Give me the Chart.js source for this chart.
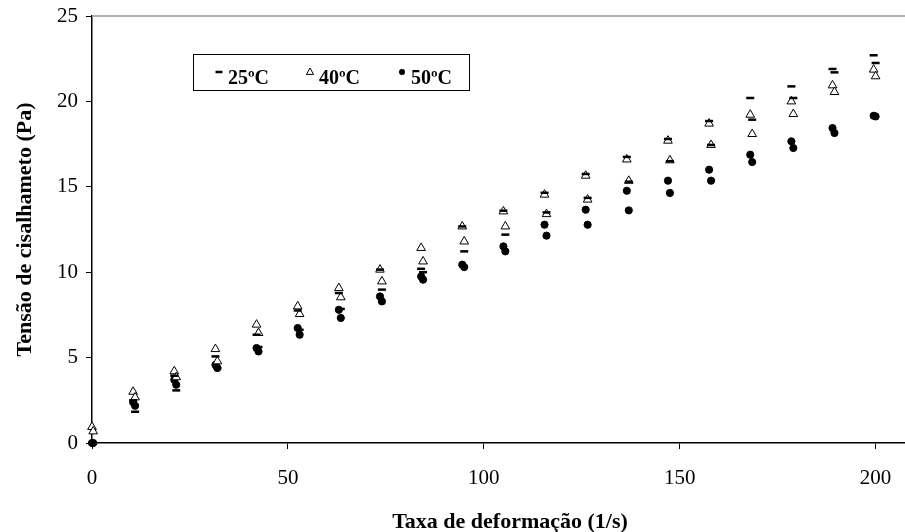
<!DOCTYPE html>
<html>
<head>
<meta charset="utf-8">
<script src="https://cdn.jsdelivr.net/npm/chart.js@4/dist/chart.umd.min.js"></script>
<style>
  html, body { margin: 0; padding: 0; background: #ffffff; overflow: hidden; }
  #wrap { width: 905px; height: 532px; position: relative; }
  canvas { display: block; }
</style>
</head>
<body>
<div id="wrap"><canvas id="c" width="905" height="532"></canvas></div>
<script>
// Shear rate (1/s): first and second reading positions
const rateA = [0, 10.5, 21, 31.5, 42, 52.5, 63, 73.5, 84, 94.5, 105, 115.5, 126, 136.5, 147, 157.5, 168, 178.5, 189, 199.5];
const rateB = [0.3, 11, 21.5, 32, 42.5, 53, 63.5, 74, 84.5, 95, 105.5, 116, 126.5, 137, 147.5, 158, 168.5, 179, 189.5, 200];

// Shear stress (Pa)
const t25A = [0, 2.5, 3.94, 5.07, 6.34, 7.76, 8.78, 10.15, 10.2, 12.68, 13.6, 14.65, 15.75, 16.75, 17.8, 18.85, 20.2, 20.88, 21.9, 22.7];
const t25B = [0, 1.83, 3.08, 4.39, 5.62, 6.63, 7.85, 8.98, 10.0, 11.22, 12.2, 13.5, 14.35, 15.3, 16.5, 17.45, 18.93, 20.2, 21.7, 22.25];
const t40A = [0.94, 3.0, 4.2, 5.5, 6.93, 8.0, 9.07, 10.15, 11.42, 12.68, 13.56, 14.54, 15.65, 16.6, 17.7, 18.7, 19.22, 20.0, 20.94, 21.86];
const t40B = [0.68, 2.67, 3.85, 4.78, 6.44, 7.55, 8.53, 9.46, 10.63, 11.8, 12.68, 13.4, 14.25, 15.35, 16.55, 17.45, 18.09, 19.26, 20.55, 21.47];
const t50A = [0, 2.38, 3.7, 4.58, 5.56, 6.73, 7.8, 8.58, 9.75, 10.44, 11.51, 12.78, 13.66, 14.77, 15.36, 16.0, 16.88, 17.66, 18.44, 19.16];
const t50B = [0, 2.18, 3.41, 4.39, 5.36, 6.34, 7.32, 8.29, 9.56, 10.3, 11.22, 12.14, 12.78, 13.62, 14.64, 15.36, 16.45, 17.27, 18.15, 19.12];

const seriesNames = ['25ºC', '40ºC', '50ºC'];
const xTicks = [0, 50, 100, 150, 200];
const yTicks = [0, 5, 10, 15, 20, 25];
const xTitle = 'Taxa de deformação (1/s)';
const yTitle = 'Tensão de cisalhameto (Pa)';

function pairs(xa, ya, xb, yb) {
  const out = [];
  xa.forEach((x, i) => out.push({ x: x, y: ya[i] }));
  xb.forEach((x, i) => out.push({ x: x, y: yb[i] }));
  return out;
}

const SERIF = '"Liberation Serif", "Times New Roman", serif';

const styles = [
  { pointStyle: 'line', pointRadius: 4, pointBorderWidth: 2.5, pointBackgroundColor: '#000', pointBorderColor: '#000' },
  { pointStyle: 'triangle', pointRadius: 5, pointBorderWidth: 1, pointBackgroundColor: '#fff', pointBorderColor: '#000' },
  { pointStyle: 'circle', pointRadius: 3.6, pointBorderWidth: 1, pointBackgroundColor: '#000', pointBorderColor: '#000' }
];

const dataSets = [
  pairs(rateA, t25A, rateB, t25B),
  pairs(rateA, t40A, rateB, t40B),
  pairs(rateA, t50A, rateB, t50B)
];

const datasets = dataSets.map((d, i) => Object.assign({
  label: seriesNames[i],
  data: d,
  showLine: false,
  clip: false,
  pointHoverRadius: 4
}, styles[i]));

const frameAndLegend = {
  id: 'frameAndLegend',
  afterDatasetsDraw(chart) {
    const ctx = chart.ctx;
    const a = chart.chartArea;
    ctx.save();
    // gray top frame line
    ctx.strokeStyle = '#9a9a9a';
    ctx.lineWidth = 1.5;
    ctx.beginPath();
    ctx.moveTo(a.left, a.top);
    ctx.lineTo(a.right, a.top);
    ctx.stroke();

    // x-axis title
    ctx.fillStyle = '#000';
    ctx.font = 'bold 22px ' + SERIF;
    ctx.textAlign = 'center';
    ctx.textBaseline = 'alphabetic';
    ctx.fillText(xTitle, 510, 528);

    // legend box
    const bx = 193.5, by = 54.5, bw = 276, bh = 36;
    ctx.fillStyle = '#fff';
    ctx.fillRect(bx, by, bw, bh);
    ctx.strokeStyle = '#000';
    ctx.lineWidth = 1;
    ctx.strokeRect(bx, by, bw, bh);

    const itemsX = [219, 310, 402];
    const textX = [228, 319, 411];
    ctx.font = 'bold 20px ' + SERIF;
    ctx.textAlign = 'left';
    seriesNames.forEach((name, i) => {
      const s = styles[i];
      const r = i === 0 ? 3.5 : (i === 1 ? 4 : 3);
      ctx.fillStyle = s.pointBackgroundColor;
      ctx.strokeStyle = s.pointBorderColor;
      ctx.lineWidth = s.pointBorderWidth;
      ctx.beginPath();
      if (s.pointStyle === 'line') {
        ctx.lineWidth = 2.5;
        ctx.moveTo(itemsX[i] - r, 72);
        ctx.lineTo(itemsX[i] + r, 72);
        ctx.stroke();
      } else if (s.pointStyle === 'triangle') {
        ctx.moveTo(itemsX[i], 72 - r);
        ctx.lineTo(itemsX[i] + r * 0.9, 72 + r * 0.6);
        ctx.lineTo(itemsX[i] - r * 0.9, 72 + r * 0.6);
        ctx.closePath();
        ctx.fill();
        ctx.stroke();
      } else {
        ctx.arc(itemsX[i], 72, r, 0, Math.PI * 2);
        ctx.fill();
      }
      ctx.fillStyle = '#000';
      ctx.fillText(name, textX[i], 84);
    });
    ctx.restore();
  }
};

new Chart(document.getElementById('c'), {
  type: 'scatter',
  data: { datasets: datasets },
  options: {
    responsive: false,
    devicePixelRatio: 1,
    animation: false,
    events: [],
    layout: { autoPadding: false, padding: { top: 16, right: 0, bottom: 0, left: 0 } },
    plugins: {
      legend: { display: false },
      tooltip: { enabled: false }
    },
    scales: {
      x: {
        type: 'linear',
        min: 0,
        max: 207.5,
        afterBuildTicks: (scale) => { scale.ticks = xTicks.map(v => ({ value: v })); },
        afterFit: (scale) => { scale.height = 89; scale.paddingRight = 0; scale.paddingLeft = 0; },
        grid: { display: true, drawOnChartArea: false, drawTicks: true, tickLength: 6, color: '#000', tickWidth: 1 },
        border: { display: true, color: '#000', width: 1.5 },
        ticks: {
          color: '#000',
          padding: 17,
          maxRotation: 0,
          autoSkip: false,
          font: { family: SERIF, size: 21 }
        },
        title: { display: false }
      },
      y: {
        type: 'linear',
        min: 0,
        max: 25,
        afterBuildTicks: (scale) => { scale.ticks = yTicks.map(v => ({ value: v })); },
        afterFit: (scale) => { scale.width = 92; scale.paddingTop = 0; scale.paddingBottom = 0; },
        grid: { display: true, drawOnChartArea: false, drawTicks: true, tickLength: 6, color: '#000', tickWidth: 1 },
        border: { display: true, color: '#000', width: 1.5 },
        ticks: {
          color: '#000',
          padding: 8,
          font: { family: SERIF, size: 21 }
        },
        title: {
          display: true,
          text: yTitle,
          color: '#000',
          padding: { top: 12, bottom: 0 },
          font: { family: SERIF, size: 22, weight: 'bold' }
        }
      }
    }
  },
  plugins: [frameAndLegend]
});
</script>
</body>
</html>
